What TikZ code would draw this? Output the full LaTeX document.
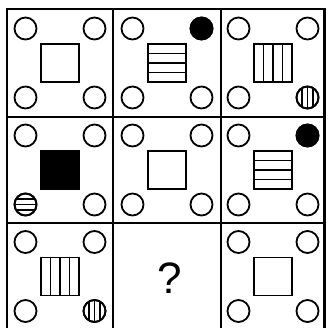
\documentclass[tikz,border=0pt]{standalone}
\usepackage{fontspec}
\setmainfont{Liberation Sans}
\usetikzlibrary{calc}

\begin{document}
\begin{tikzpicture}[x=1pt, y=-1pt,
    grid/.style={line width=2.6pt},
    ring/.style={line width=1.8pt},
    box/.style={line width=1.8pt},
    stripe/.style={line width=1.6pt}]
  \useasboundingbox (0,0) rectangle (327,328);
  % Cell centres (column, row)
  \foreach \cx [count=\i] in {60,167,273}
    \foreach \cy [count=\j] in {63,170,276.5}
      \coordinate (c\i\j) at (\cx,\cy);
  % Grid
  \draw[grid] (7,9) rectangle (324.5,330);
  \draw[grid] (113,9) -- (113,330);
  \draw[grid] (221,9) -- (221,330);
  \draw[grid] (7,117) -- (324.5,117);
  \draw[grid] (7,223) -- (324.5,223);
  % Corner rings
  \foreach \c in {c11,c21,c31,c12,c22,c32,c13,c33}
    \foreach \dx/\dy in {-1/-1, 1/-1, -1/1, 1/1}
      \draw[ring] ($(\c)+(34.5*\dx,34.5*\dy)$) circle (11);
  % Black dots
  \foreach \c in {c21,c32}
    \fill ($(\c)+(34.5,-34.5)$) circle (11.9);
  % Small striped rings
  \foreach \c/\dx/\dy/\v in {c31/1/1/1, c13/1/1/1, c12/-1/1/0} {
    \coordinate (s) at ($(\c)+(34.5*\dx,34.5*\dy)$);
    \begin{scope}
      \clip (s) circle (11);
      \foreach \t in {-5.5,0,5.5} {
        \ifnum\v=1
          \draw[stripe] ($(s)+(\t,-12)$) -- ++(0,24);
        \else
          \draw[stripe] ($(s)+(-12,\t)$) -- ++(24,0);
        \fi
      }
    \end{scope}
    \draw[ring] (s) circle (11);
  }
  % Plain squares
  \foreach \c in {c11,c22,c33}
    \draw[box] ($(\c)+(-19,-19)$) rectangle ($(\c)+(19,19)$);
  % Filled square
  \filldraw[box] ($(c12)+(-19,-19)$) rectangle ($(c12)+(19,19)$);
  % Squares with horizontal stripes
  \foreach \c in {c21,c32} {
    \draw[box] ($(\c)+(-19,-19)$) rectangle ($(\c)+(19,19)$);
    \foreach \t in {-9.5,0,9.5}
      \draw[box] ($(\c)+(-19,\t)$) -- ($(\c)+(19,\t)$);
  }
  % Squares with vertical stripes
  \foreach \c in {c31,c13} {
    \draw[box] ($(\c)+(-19,-19)$) rectangle ($(\c)+(19,19)$);
    \foreach \t in {-9.5,0,9.5}
      \draw[box] ($(\c)+(\t,-19)$) -- ($(\c)+(\t,19)$);
  }
  % Missing cell
  \node[font=\fontsize{44}{44}\selectfont, inner sep=0pt] (q) at ($(c23)+(3,2)$) {?};
\end{tikzpicture}
\end{document}
